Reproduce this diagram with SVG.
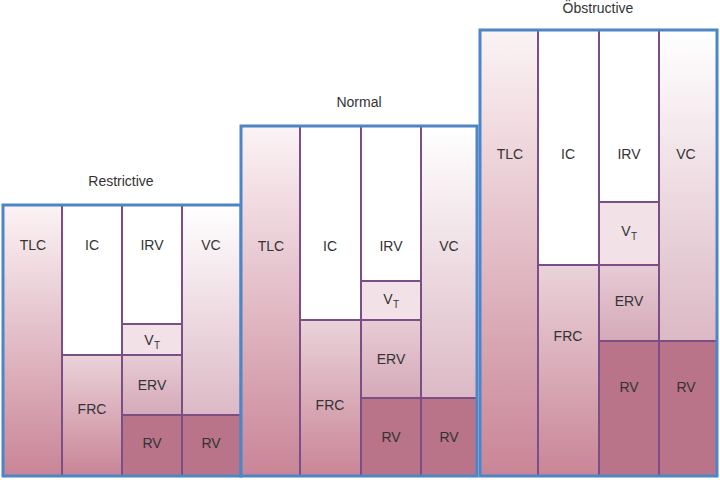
<svg xmlns="http://www.w3.org/2000/svg" width="720" height="480" viewBox="0 0 720 480">
<defs>
<linearGradient id="gTLC" x1="0" y1="0" x2="0" y2="1"><stop offset="0" stop-color="#fbf3f5"/><stop offset="1" stop-color="#c98597"/></linearGradient>
<linearGradient id="gFRC" x1="0" y1="0" x2="0" y2="1"><stop offset="0" stop-color="#ead3da"/><stop offset="1" stop-color="#c98597"/></linearGradient>
<linearGradient id="gVC" x1="0" y1="0" x2="0" y2="1"><stop offset="0" stop-color="#ffffff"/><stop offset="1" stop-color="#dcb9c4"/></linearGradient>
<linearGradient id="gERV" x1="0" y1="0" x2="0" y2="1"><stop offset="0" stop-color="#e7ccd5"/><stop offset="1" stop-color="#d5a9b8"/></linearGradient>
</defs>
<style>
.bd{fill:none;stroke:#4d86c6;stroke-width:3}
.ln{stroke:#7b4e86;stroke-width:2;fill:none}
.w{fill:#ffffff}.vt{fill:#f2e1e7}.rv{fill:#b97489}
text{font-family:"Liberation Sans",Arial,sans-serif;font-size:14px;fill:#333;text-anchor:middle}
.t{font-size:14px}
</style>
<rect width="720" height="480" fill="#fff"/>
<g id="restrictive">
<text x="121" y="186">Restrictive</text>
<rect x="4" y="206" width="58" height="269" fill="url(#gTLC)"/>
<rect x="62" y="206" width="60" height="149" class="w"/>
<rect x="62" y="355" width="60" height="120" fill="url(#gFRC)"/>
<rect x="122" y="206" width="60" height="118" class="w"/>
<rect x="122" y="324" width="60" height="31" class="vt"/>
<rect x="122" y="355" width="60" height="60" fill="url(#gERV)"/>
<rect x="122" y="415" width="118" height="60" class="rv"/>
<rect x="182" y="206" width="58" height="209" fill="url(#gVC)"/>
<path class="ln" d="M62 206V475M122 206V475M182 206V475M62 355H182M122 324H182M122 415H240"/>
<rect class="bd" x="3" y="205" width="238" height="271"/>
<text x="33" y="250">TLC</text><text x="92" y="250">IC</text><text x="152" y="250">IRV</text><text x="211" y="250">VC</text>
<text x="149" y="345">V</text><text x="157" y="349" style="font-size:10px">T</text>
<text x="152" y="390">ERV</text><text x="92" y="414">FRC</text>
<text x="152" y="448">RV</text><text x="211" y="448">RV</text>
</g>
<g id="normal">
<text x="359" y="107">Normal</text>
<rect x="242" y="127" width="58" height="348" fill="url(#gTLC)"/>
<rect x="300" y="127" width="61" height="193" class="w"/>
<rect x="300" y="320" width="61" height="155" fill="url(#gFRC)"/>
<rect x="361" y="127" width="60" height="154" class="w"/>
<rect x="361" y="281" width="60" height="39" class="vt"/>
<rect x="361" y="320" width="60" height="78" fill="url(#gERV)"/>
<rect x="361" y="398" width="115" height="77" class="rv"/>
<rect x="421" y="127" width="55" height="271" fill="url(#gVC)"/>
<path class="ln" d="M300 127V475M361 127V475M421 127V475M300 320H421M361 281H421M361 398H476"/>
<rect class="bd" x="241" y="126" width="236" height="350"/>
<text x="271" y="251">TLC</text><text x="330" y="251">IC</text><text x="391" y="251">IRV</text><text x="449" y="251">VC</text>
<text x="388" y="304">V</text><text x="396" y="308" style="font-size:10px">T</text>
<text x="391" y="364">ERV</text><text x="330" y="410">FRC</text>
<text x="391" y="442">RV</text><text x="449" y="442">RV</text>
</g>
<g id="obstructive">
<text x="598" y="13">Öbstructive</text>
<rect x="481" y="31" width="57" height="444" fill="url(#gTLC)"/>
<rect x="538" y="31" width="61" height="234" class="w"/>
<rect x="538" y="265" width="61" height="210" fill="url(#gFRC)"/>
<rect x="599" y="31" width="60" height="171" class="w"/>
<rect x="599" y="202" width="60" height="63" class="vt"/>
<rect x="599" y="265" width="60" height="76" fill="url(#gERV)"/>
<rect x="599" y="341" width="117" height="134" class="rv"/>
<rect x="659" y="31" width="57" height="310" fill="url(#gVC)"/>
<path class="ln" d="M538 31V475M599 31V475M659 31V475M538 265H659M599 202H659M599 341H716"/>
<rect class="bd" x="480" y="30" width="237" height="446"/>
<text x="510" y="159">TLC</text><text x="568" y="159">IC</text><text x="629" y="159">IRV</text><text x="686" y="159">VC</text>
<text x="626" y="236">V</text><text x="634" y="240" style="font-size:10px">T</text>
<text x="629" y="306">ERV</text><text x="568" y="341">FRC</text>
<text x="629" y="392">RV</text><text x="686" y="392">RV</text>
</g>
</svg>
